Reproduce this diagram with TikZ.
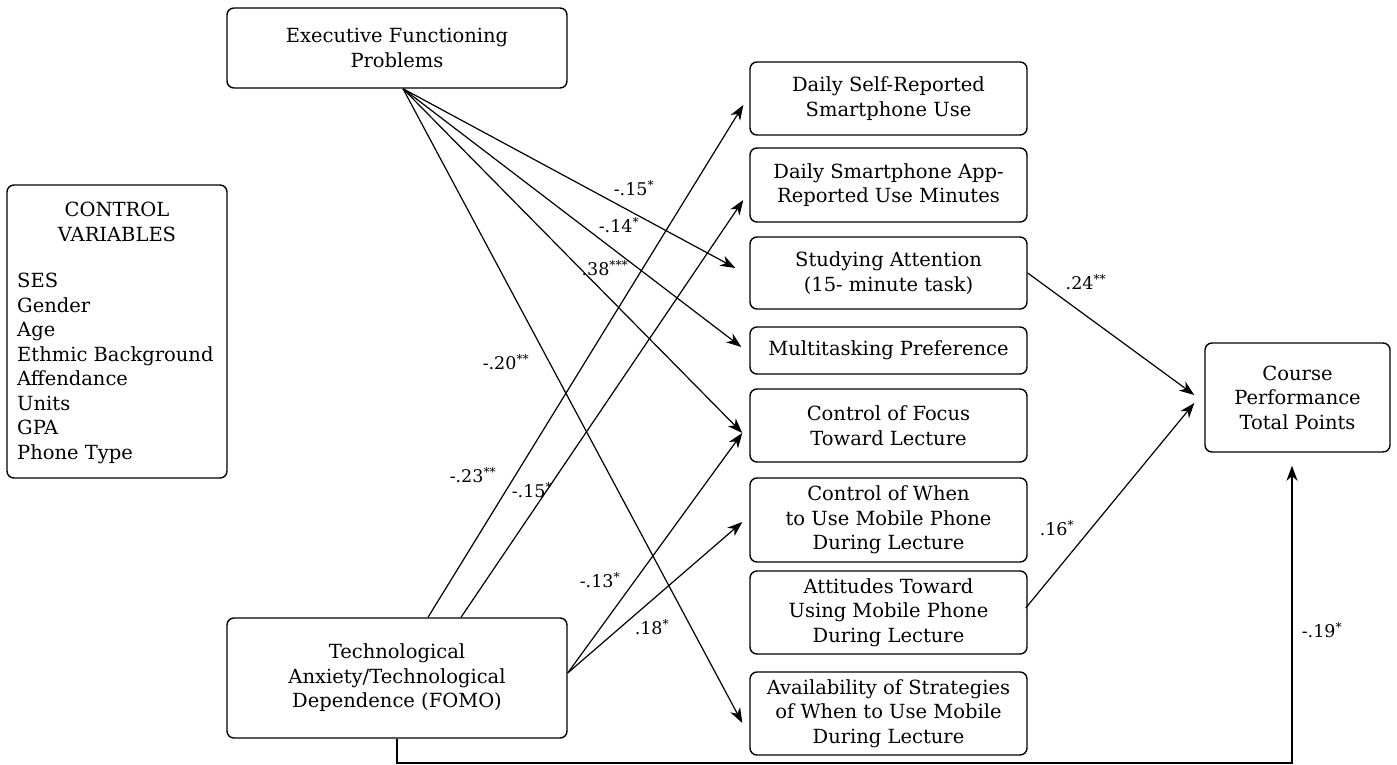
\documentclass[tikz,border=0pt]{standalone}
\usepackage{fontspec}
\setmainfont{DejaVu Serif}
\usetikzlibrary{arrows.meta,calc}
\begin{document}
\begin{tikzpicture}[x=1pt,y=-1pt,
  box/.style={draw, line width=1.4pt, rounded corners=7pt, align=center, inner sep=0pt,
              font=\fontsize{19.5}{24.5}\selectfont},
  rbox/.style={box, minimum width=277pt},
  arr/.style={line width=1.2pt, -{Stealth[length=15pt,width=11pt,inset=4.5pt]}},
  lab/.style={font=\fontsize{17.5}{20}\selectfont, inner sep=0pt},
  txt/.style={font=\fontsize{19.5}{24.5}\selectfont, inner sep=0pt}]
\useasboundingbox (0,0) rectangle (1397,765);

% main boxes
\node[box, minimum width=340pt, minimum height=80pt] (ef) at (397,48) {Executive Functioning\\Problems};
\node[box, minimum width=340pt, minimum height=120pt] (ta) at (397,678) {Technological\\Anxiety/Technological\\Dependence (FOMO)};
\node[box, minimum width=185pt, minimum height=109pt] (cp) at (1297.5,397.5) {Course\\Performance\\Total Points};

% control variables
\node[box, minimum width=220pt, minimum height=293pt] (cv) at (117,331.5) {};
\node[txt, align=center] (cvtitle) at (117,222) {CONTROL\\VARIABLES};
\node[txt, align=left, anchor=north west] (cvlist) at (17,273) {SES\\Gender\\Age\\Ethmic Background\\Affendance\\Units\\GPA\\Phone Type};

% right column
\node[rbox, minimum height=73pt] (ds) at (888.5,98.5) {Daily Self-Reported\\Smartphone Use};
\node[rbox, minimum height=74pt] (da) at (888.5,185) {Daily Smartphone App-\\Reported Use Minutes};
\node[rbox, minimum height=72pt] (sa) at (888.5,273) {Studying Attention\\(15- minute task)};
\node[rbox, minimum height=47pt] (mp) at (888.5,350.5) {Multitasking Preference};
\node[rbox, minimum height=73pt] (cf) at (888.5,425.5) {Control of Focus\\Toward Lecture};
\node[rbox, minimum height=84pt] (cw) at (888.5,520) {Control of When\\to Use Mobile Phone\\During Lecture};
\node[rbox, minimum height=83pt] (at) at (888.5,612.5) {Attitudes Toward\\Using Mobile Phone\\During Lecture};
\node[rbox, minimum height=83pt] (av) at (888.5,713.5) {Availability of Strategies\\of When to Use Mobile\\During Lecture};

% executive functioning paths
\coordinate (efsrc) at ([xshift=6pt]ef.south);
\draw[arr] (efsrc) -- ([xshift=-14pt,yshift=5pt]sa.west);
\draw[arr] (efsrc) -- ([xshift=-8pt,yshift=3.5pt]mp.west);
\draw[arr] (efsrc) -- ([xshift=-7pt,yshift=-7.5pt]cf.west);
\draw[arr] (efsrc) -- ([xshift=-7pt,yshift=-9.5pt]av.west);

% technological anxiety paths
\draw[arr] ([xshift=31pt]ta.north) -- ([xshift=-6pt,yshift=-6.5pt]ds.west);
\draw[arr] ([xshift=64pt]ta.north) -- ([xshift=-6pt,yshift=-15pt]da.west);
\coordinate (tasrc) at ([yshift=5pt]ta.east);
\draw[arr] (tasrc) -- ([xshift=-7pt,yshift=-7.5pt]cf.west);
\draw[arr] (tasrc) -- ([xshift=-7pt,yshift=-2pt]cw.west);

% to course performance
\draw[arr] (sa.east) -- ([xshift=-10pt,yshift=2.5pt]cp.west);
\draw[arr] ([xshift=-2pt,yshift=4.5pt]at.east) -- ([xshift=-10pt,yshift=-5.5pt]cp.west);
\coordinate (bend) at (1292,763);
\draw[arr] (ta.south) |- (bend) -- ([xshift=-5.5pt,yshift=-13pt]cp.south);

% labels
\node[lab] (l1) at (634,188) {-.15\textsuperscript{*}};
\node[lab] (l2) at (619,225) {-.14\textsuperscript{*}};
\node[lab] (l3) at (605,268) {.38\textsuperscript{***}};
\node[lab] (l4) at (506,362) {-.20\textsuperscript{**}};
\node[lab] (l5) at (473,475) {-.23\textsuperscript{**}};
\node[lab] (l6) at (532,490) {-.15\textsuperscript{*}};
\node[lab] (l7) at (600,580) {-.13\textsuperscript{*}};
\node[lab] (l8) at (652,627) {.18\textsuperscript{*}};
\node[lab] (l9) at (1086,282) {.24\textsuperscript{**}};
\node[lab] (l10) at (1057,528) {.16\textsuperscript{*}};
\node[lab] (l11) at (1322,630) {-.19\textsuperscript{*}};
\end{tikzpicture}
\end{document}
